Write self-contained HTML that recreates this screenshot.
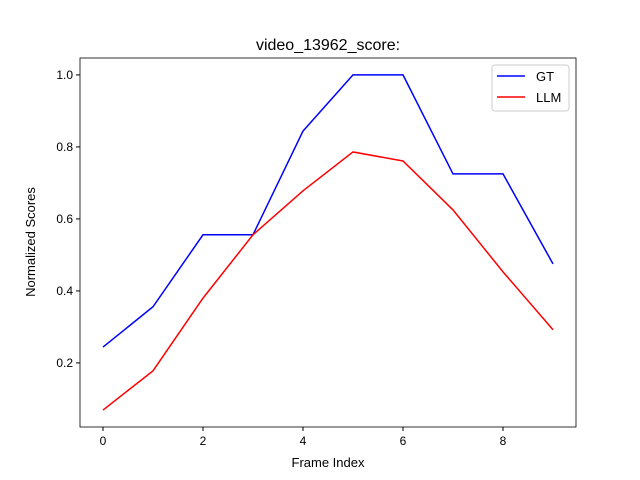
<!DOCTYPE html>
<html><head><meta charset="utf-8"><style>
html,body{margin:0;padding:0;background:#fff;}
svg{display:block;font-family:"Liberation Sans","DejaVu Sans",sans-serif;}
</style></head><body>
<svg id="chart" width="640" height="480" viewBox="0 0 640 480">
<rect x="0" y="0" width="640" height="480" fill="#fff"/>
<text x="328" y="50" text-anchor="middle" font-size="16">video_13962_score:</text>
<text x="328" y="467" text-anchor="middle" font-size="13">Frame Index</text>
<text transform="translate(35,242) rotate(-90)" text-anchor="middle" font-size="13">Normalized Scores</text>
<g id="ticks"></g>
<g id="series"></g>
<rect x="80" y="58" width="496" height="369" fill="none" stroke="#000" stroke-width="0.8"/>
<g>
<rect x="492" y="65" width="77" height="46" rx="3" fill="#fff" stroke="#ccc"/>
<line x1="497" y1="76" x2="525" y2="76" stroke="#0000ff" stroke-width="1.5"/>
<text x="536" y="81" font-size="13">GT</text>
<line x1="497" y1="97" x2="525" y2="97" stroke="#ff0000" stroke-width="1.5"/>
<text x="536" y="102" font-size="13">LLM</text>
</g>
</svg>
<script>
const frames = [0,1,2,3,4,5,6,7,8,9];
const gtValues = [0.244,0.356,0.556,0.556,0.844,1.0,1.0,0.725,0.725,0.475];
const llmValues = [0.069,0.178,0.38,0.556,0.678,0.786,0.761,0.625,0.453,0.292];
const xTicks = [0,2,4,6,8];
const yTicks = [0.2,0.4,0.6,0.8,1.0];
const yTickLabels = ["0.2","0.4","0.6","0.8","1.0"];

const X0=80,X1=576,Y0=427,Y1=58;
const xMin=-0.46,xMax=9.46,yMin=0.022,yMax=1.047;
function sx(v){return X0+(v-xMin)/(xMax-xMin)*(X1-X0);}
function sy(v){return Y0-(v-yMin)/(yMax-yMin)*(Y0-Y1);}
const NS="http://www.w3.org/2000/svg";
const tg=document.getElementById('ticks');
xTicks.forEach(function(t){
  const l=document.createElementNS(NS,'line');
  l.setAttribute('x1',sx(t));l.setAttribute('x2',sx(t));l.setAttribute('y1',Y0);l.setAttribute('y2',Y0+4);l.setAttribute('stroke','#000');
  
  
  tg.appendChild(l);
  const tx=document.createElementNS(NS,'text');
  tx.setAttribute('x',sx(t));tx.setAttribute('y',Y0+18);tx.setAttribute('text-anchor','middle');tx.setAttribute('font-size','12');
  tx.textContent=String(t);
  
  
  tg.appendChild(tx);
});
yTicks.forEach(function(t,i){
  const l=document.createElementNS(NS,'line');
  l.setAttribute('x1',X0-4);l.setAttribute('x2',X0);l.setAttribute('y1',sy(t));l.setAttribute('y2',sy(t));l.setAttribute('stroke','#000');
  
  
  tg.appendChild(l);
  const tx=document.createElementNS(NS,'text');
  tx.setAttribute('x',X0-7);tx.setAttribute('y',sy(t)+4);tx.setAttribute('text-anchor','end');tx.setAttribute('font-size','12');
  tx.textContent=yTickLabels[i];
  
  
  tg.appendChild(tx);
});
const sg=document.getElementById('series');
function drawLine(vals,color,name){
  const p=document.createElementNS(NS,'polyline');
  p.setAttribute('points',frames.map(function(f,i){return sx(f)+','+sy(vals[i]);}).join(' '));
  p.setAttribute('fill','none');p.setAttribute('stroke',color);p.setAttribute('stroke-width','1.5');
  
  
  sg.appendChild(p);
}
drawLine(gtValues,'#0000ff','gt-series-line');
drawLine(llmValues,'#ff0000','llm-series-line');
</script>
</body></html>
